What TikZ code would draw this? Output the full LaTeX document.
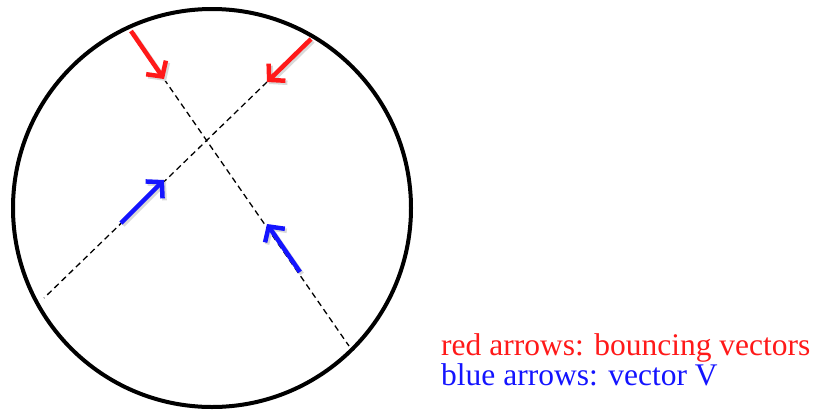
\documentclass[tikz,border=0pt]{standalone}
\usepackage{fontspec}
\setmainfont{Liberation Serif}
\usetikzlibrary{arrows.meta}
\definecolor{vred}{RGB}{255,25,25}
\definecolor{vblue}{RGB}{20,20,255}
\tikzset{
  vec/.style={line width=4.5pt, -{Straight Barb[length=11pt,width=24pt,line width=4.5pt]}},
  vshadow/.style={vec, draw=black!15},
  path/.style={line width=1.3pt, dash pattern=on 6pt off 4pt},
  lbl/.style={anchor=base west, inner sep=0pt, font=\fontsize{31.5pt}{36pt}\selectfont}
}
\begin{document}
\begin{tikzpicture}[x=1pt,y=-1pt]
\useasboundingbox (0,0) rectangle (824,410);
\node[draw, circle, line width=4pt, minimum size=398pt, inner sep=0pt] (ring) at (212,208) {};
% end points
\coordinate (r1s) at (131,31);
\coordinate (r1t) at (164,79);
\coordinate (p1e) at (349,346);
\coordinate (r2s) at (311,39);
\coordinate (r2t) at (267,82);
\coordinate (p2e) at (44,298);
\coordinate (b1s) at (121,223);
\coordinate (b1t) at (164,180);
\coordinate (b2s) at (300,272);
\coordinate (b2t) at (267,224);
% dashed paths
\draw[path] (r1t) -- (p1e);
\draw[path] (r2t) -- (p2e);
% shadows
\draw[vshadow] ([shift={(2,2)}]r1s) -- ([shift={(2,2)}]r1t);
\draw[vshadow] ([shift={(2,2)}]r2s) -- ([shift={(2,2)}]r2t);
\draw[vshadow] ([shift={(2,2)}]b1s) -- ([shift={(2,2)}]b1t);
\draw[vshadow] ([shift={(2,2)}]b2s) -- ([shift={(2,2)}]b2t);
% vectors
\draw[vec, vred] (r1s) -- (r1t);
\draw[vec, vred] (r2s) -- (r2t);
\draw[vec, vblue] (b1s) -- (b1t);
\draw[vec, vblue] (b2s) -- (b2t);
% legend
\node[lbl, text=vred] (l1) at (441,355) {red arrows: bouncing vectors};
\node[lbl, text=vblue] (l2) at (441,385) {blue arrows: vector V};
\end{tikzpicture}
\end{document}
